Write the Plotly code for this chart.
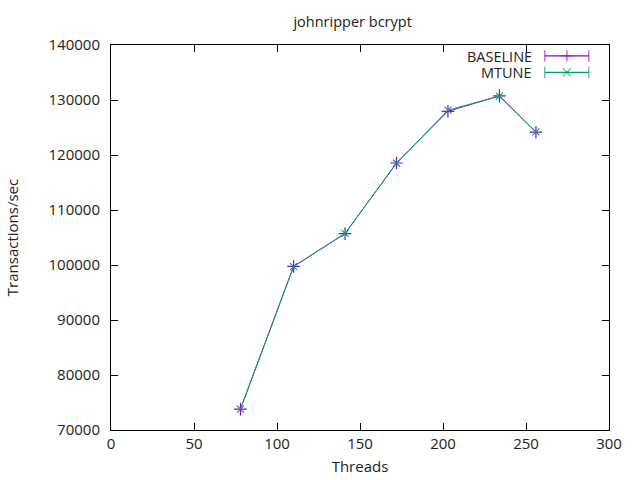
import plotly.graph_objects as go

threads = [78, 110, 141, 172, 203, 234, 256]
baseline = [73800, 99750, 105700, 118550, 127950, 130750, 124150]
mtune = [73800, 99700, 105750, 118500, 128150, 130700, 124200]

PURPLE = '#9400d3'
GREEN = '#009e73'
FONT = 'Open Sans'

fig = go.Figure()

fig.add_trace(go.Scatter(
    x=threads, y=baseline, name='BASELINE', mode='lines+markers',
    line=dict(color=PURPLE, width=1),
    marker=dict(symbol='cross-thin', size=9, line=dict(color=PURPLE, width=1.2)),
    showlegend=False
))
fig.add_trace(go.Scatter(
    x=threads, y=mtune, name='MTUNE', mode='lines+markers',
    line=dict(color=GREEN, width=1),
    marker=dict(symbol='x-thin', size=7, line=dict(color=GREEN, width=1.2)),
    showlegend=False
))

# gnuplot-style key: right-aligned labels with samples on the right
key_rows = [('BASELINE', PURPLE, 'cross-thin', 0.972), ('MTUNE', GREEN, 'x-thin', 0.929)]
for label, color, sym, ky in key_rows:
    fig.add_trace(go.Scatter(
        x=[0.871, 0.9155, 0.9595], y=[ky, ky, ky], mode='lines+markers',
        xaxis='x2', yaxis='y2', showlegend=False, hoverinfo='skip',
        line=dict(color=color, width=1.2),
        marker=dict(symbol=['line-ns', sym, 'line-ns'], size=[8, 8, 8],
                    line=dict(color=color, width=1.2))
    ))
    fig.add_annotation(
        x=0.848, y=ky, xref='x2', yref='y2', text=label, showarrow=False,
        xanchor='right', yanchor='middle', height=14, borderpad=0,
        font=dict(size=14.5, color='#222')
    )

axis_style = dict(
    showline=True, mirror='ticks', linecolor='black', linewidth=1,
    ticks='inside', ticklen=7, tickcolor='black', showgrid=False,
    zeroline=False, automargin=False, tickfont=dict(size=15, color='#222')
)

fig.update_layout(
    width=640, height=480,
    margin=dict(l=111, r=31, t=45, b=50, autoexpand=False),
    paper_bgcolor='white', plot_bgcolor='white',
    font=dict(family=FONT, color='#222'),
    title=dict(text='johnripper bcrypt', x=0.551, xanchor='center',
               y=0.954, yanchor='middle', font=dict(size=14.5)),
    xaxis=dict(range=[0, 300], dtick=50, tick0=0,
               title=dict(text='Threads', font=dict(size=15), standoff=9),
               **axis_style),
    yaxis=dict(range=[70000, 140000], dtick=10000, tick0=70000, tickformat='d',
               ticklabelstandoff=7,
               title=dict(text='Transactions/sec', font=dict(size=15), standoff=26),
               **axis_style),
    xaxis2=dict(range=[0, 1], overlaying='x', visible=False),
    yaxis2=dict(range=[0, 1], overlaying='y', visible=False),
)

fig.write_html("out.html", config={'displayModeBar': False},
               post_script="document.body.style.margin='0';")
